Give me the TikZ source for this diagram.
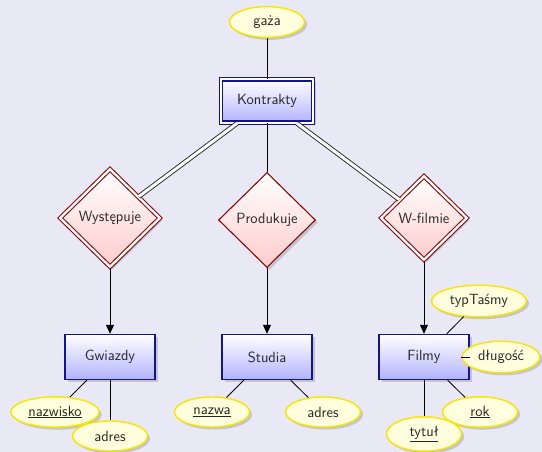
\documentclass[tikz,border=0pt]{standalone}
\usepackage{fontspec}
\usetikzlibrary{shapes.geometric,shadows,arrows.meta}
\definecolor{bg}{RGB}{233,233,245}
\definecolor{entborder}{RGB}{20,20,140}
\definecolor{relborder}{RGB}{135,10,10}
\definecolor{attrborder}{RGB}{250,228,0}
\definecolor{attrfill}{RGB}{255,255,222}
\tikzset{
  shad/.style={drop shadow={opacity=0.35, shadow xshift=2.5pt, shadow yshift=-2.5pt}},
  entity/.style={rectangle, draw=entborder, line width=1.4pt, top color=white, bottom color=blue!30,
    minimum width=90pt, minimum height=45pt, inner sep=0pt, shad},
  kontr/.style={entity, double=white, double distance=2.3pt, line width=1.2pt,
    minimum width=92pt, minimum height=43.5pt},
  relation/.style={diamond, aspect=1, draw=relborder, line width=1.1pt, top color=white, bottom color=red!20,
    inner sep=0pt, shad},
  weakrel/.style={relation, double=white, double distance=2.3pt, line width=1.1pt},
  attr/.style={ellipse, draw=attrborder, line width=1.4pt, fill=attrfill, inner sep=4.5pt,
    minimum width=75pt, minimum height=30pt, shad},
  conn/.style={draw=black, line width=0.8pt},
  dbl/.style={draw=black!85, line width=0.9pt, double=white, double distance=3pt},
  arr/.style={conn, -{Triangle[length=9pt,width=8pt]}}
}
\begin{document}
\begin{tikzpicture}[x=1pt,y=-1pt, font=\sffamily\fontsize{14.8}{17}\selectfont, text=black!85]
\fill[bg] (0,0) rectangle (542,452);
\useasboundingbox (0,0) rectangle (542,452);

\node[attr] (gaza) at (267,22) {gaża};
\node[kontr] (kon) at (267,101) {Kontrakty};
\node[weakrel, minimum width=100pt, minimum height=98pt] (wys) at (110,218) {Występuje};
\node[relation, minimum width=97pt, minimum height=95pt] (prod) at (267,220) {Produkuje};
\node[weakrel, minimum width=86pt, minimum height=84pt] (wfil) at (424,218) {W-filmie};

\node[entity] (gw) at (110,357) {Gwiazdy};
\node[entity] (st) at (267,357) {Studia};
\node[entity] (fi) at (424,357) {Filmy};

\node[attr] (nazwisko) at (55,412) {\underline{nazwisko}};
\node[attr] (adresg) at (110,436) {adres};
\node[attr] (nazwa) at (212,412) {\underline{nazwa}};
\node[attr] (adress) at (323,412) {adres};
\node[attr] (typ) at (479,301) {typTaśmy};
\node[attr] (dl) at (501,357) {długość};
\node[attr] (rok) at (480,412) {\underline{rok}};
\node[attr] (tytul) at (424,434) {\underline{tytuł}};

\draw[conn] (gaza) -- (kon);
\draw[dbl] (kon) -- (wys);
\draw[conn] (kon) -- (prod);
\draw[dbl] (kon) -- (wfil);

\draw[arr] (wys) -- (gw);
\draw[arr] (prod) -- (st);
\draw[arr] (wfil) -- (fi);

\draw[conn] (gw) -- (nazwisko);
\draw[conn] (gw) -- (adresg);
\draw[conn] (st) -- (nazwa);
\draw[conn] (st) -- (adress);
\draw[conn] (fi) -- (typ);
\draw[conn] (fi) -- (dl);
\draw[conn] (fi) -- (rok);
\draw[conn] (fi) -- (tytul);
\end{tikzpicture}
\end{document}
